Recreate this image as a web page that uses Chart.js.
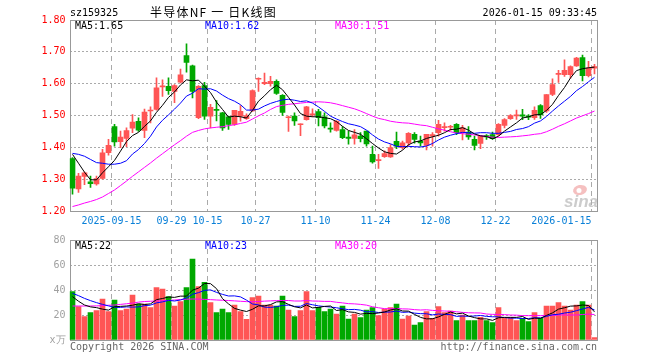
<!DOCTYPE html>
<html>
<head>
<meta charset="utf-8">
<script src="https://cdn.jsdelivr.net/npm/chart.js@4.4.1/dist/chart.umd.min.js"></script>
<style>
  html, body { margin: 0; padding: 0; background: #fff; }
  #wrap { position: relative; width: 660px; height: 360px; }
  #kline { position: absolute; left: 0; top: 0; }
  #vol { position: absolute; left: 0; top: 230px; }
</style>
</head>
<body>
<div id="wrap">
  <canvas id="kline" width="660" height="230" style="width:660px;height:230px"></canvas>
  <canvas id="vol" width="660" height="130" style="width:660px;height:130px"></canvas>
</div>
<script>
//Trading days shown on the chart
const dates = [
  '2025-09-04','2025-09-05','2025-09-08','2025-09-09','2025-09-10','2025-09-11','2025-09-12','2025-09-15','2025-09-16','2025-09-17',
  '2025-09-18','2025-09-19','2025-09-22','2025-09-23','2025-09-24','2025-09-25','2025-09-26','2025-09-29','2025-09-30','2025-10-09',
  '2025-10-10','2025-10-13','2025-10-14','2025-10-15','2025-10-16','2025-10-17','2025-10-20','2025-10-21','2025-10-22','2025-10-23',
  '2025-10-24','2025-10-27','2025-10-28','2025-10-29','2025-10-30','2025-10-31','2025-11-03','2025-11-04','2025-11-05','2025-11-06',
  '2025-11-07','2025-11-10','2025-11-11','2025-11-12','2025-11-13','2025-11-14','2025-11-17','2025-11-18','2025-11-19','2025-11-20',
  '2025-11-21','2025-11-24','2025-11-25','2025-11-26','2025-11-27','2025-11-28','2025-12-01','2025-12-02','2025-12-03','2025-12-04',
  '2025-12-05','2025-12-08','2025-12-09','2025-12-10','2025-12-11','2025-12-12','2025-12-15','2025-12-16','2025-12-17','2025-12-18',
  '2025-12-19','2025-12-22','2025-12-23','2025-12-24','2025-12-25','2025-12-26','2025-12-29','2025-12-30','2025-12-31','2026-01-05',
  '2026-01-06','2026-01-07','2026-01-08','2026-01-09','2026-01-12','2026-01-13','2026-01-14','2026-01-15'
];

const tickDates = ['2025-09-15','2025-09-29','2025-10-15','2025-10-27','2025-11-10','2025-11-24','2025-12-08','2025-12-22','2026-01-15'];
const tickTexts = ['2025-09-15','09-29','10-15','10-27','11-10','11-24','12-08','12-22','2026-01-15'];
const priceTicks = [1.2, 1.3, 1.4, 1.5, 1.6, 1.7, 1.8];
const volTicks = [0, 20, 40, 60, 80];

//Candles
const opens = [
  1.365,1.269,1.309,1.292,1.285,1.302,1.383,1.465,1.418,1.428,
  1.460,1.482,1.453,1.514,1.519,1.590,1.592,1.576,1.605,1.688,
  1.656,1.493,1.594,1.498,1.518,1.508,1.496,1.472,1.498,1.490,
  1.514,1.614,1.600,1.600,1.607,1.563,1.493,1.498,1.471,1.487,
  1.502,1.512,1.496,1.459,1.453,1.456,1.432,1.428,1.435,1.451,
  1.378,1.358,1.371,1.370,1.419,1.399,1.414,1.441,1.420,1.406,
  1.435,1.446,1.462,1.463,1.472,1.446,1.448,1.425,1.412,1.437,
  1.440,1.440,1.469,1.490,1.499,1.502,1.497,1.493,1.531,1.514,
  1.566,1.629,1.628,1.628,1.656,1.682,1.625,1.649
];
const highs = [
  1.368,1.318,1.322,1.310,1.310,1.394,1.425,1.472,1.451,1.461,
  1.503,1.493,1.520,1.527,1.618,1.612,1.618,1.597,1.646,1.725,
  1.658,1.594,1.604,1.535,1.547,1.510,1.498,1.516,1.531,1.505,
  1.581,1.618,1.633,1.623,1.612,1.566,1.498,1.508,1.474,1.529,
  1.521,1.519,1.508,1.477,1.484,1.465,1.451,1.456,1.446,1.451,
  1.404,1.378,1.389,1.409,1.448,1.420,1.446,1.446,1.435,1.441,
  1.446,1.485,1.477,1.469,1.475,1.469,1.465,1.435,1.437,1.440,
  1.448,1.475,1.490,1.503,1.517,1.519,1.503,1.527,1.534,1.566,
  1.615,1.642,1.675,1.656,1.683,1.690,1.670,1.661
];
const lows = [
  1.253,1.258,1.283,1.274,1.281,1.300,1.375,1.404,1.399,1.402,
  1.446,1.450,1.430,1.477,1.517,1.560,1.566,1.540,1.602,1.636,
  1.555,1.490,1.488,1.461,1.483,1.453,1.456,1.469,1.482,1.488,
  1.513,1.576,1.597,1.592,1.566,1.500,1.450,1.469,1.437,1.485,
  1.496,1.467,1.461,1.448,1.451,1.427,1.410,1.410,1.417,1.404,
  1.350,1.334,1.368,1.368,1.396,1.394,1.404,1.413,1.404,1.392,
  1.404,1.435,1.451,1.453,1.440,1.423,1.425,1.392,1.396,1.425,
  1.425,1.437,1.461,1.488,1.488,1.487,1.487,1.488,1.491,1.510,
  1.562,1.604,1.623,1.617,1.654,1.609,1.621,1.631
];
const closes = [
  1.272,1.310,1.320,1.286,1.302,1.383,1.406,1.417,1.432,1.453,
  1.479,1.454,1.511,1.517,1.587,1.592,1.578,1.594,1.628,1.667,
  1.576,1.592,1.498,1.526,1.516,1.461,1.472,1.516,1.513,1.500,
  1.578,1.616,1.604,1.607,1.569,1.510,1.495,1.483,1.473,1.527,
  1.504,1.493,1.467,1.457,1.482,1.430,1.428,1.439,1.427,1.411,
  1.354,1.360,1.380,1.399,1.404,1.414,1.444,1.425,1.414,1.441,
  1.440,1.472,1.464,1.465,1.446,1.461,1.433,1.406,1.435,1.433,
  1.427,1.472,1.487,1.500,1.501,1.498,1.495,1.516,1.503,1.566,
  1.597,1.632,1.642,1.654,1.680,1.625,1.649,1.654
];

//Price moving averages
const ma5 = [
  1.378,1.350,1.322,1.298,1.298,1.320,1.339,1.359,1.388,1.418,
  1.437,1.447,1.466,1.483,1.510,1.532,1.557,1.574,1.596,1.612,
  1.609,1.611,1.592,1.572,1.542,1.519,1.495,1.498,1.496,1.492,
  1.516,1.545,1.562,1.581,1.595,1.581,1.557,1.533,1.506,1.498,
  1.496,1.496,1.493,1.490,1.481,1.466,1.453,1.447,1.441,1.427,
  1.412,1.398,1.386,1.381,1.379,1.391,1.408,1.417,1.420,1.428,
  1.433,1.438,1.446,1.456,1.457,1.462,1.454,1.442,1.436,1.434,
  1.427,1.435,1.451,1.464,1.477,1.492,1.496,1.502,1.503,1.516,
  1.535,1.563,1.588,1.618,1.641,1.647,1.650,1.652
];
const ma10 = [
  1.381,1.378,1.372,1.362,1.352,1.350,1.347,1.347,1.350,1.358,
  1.379,1.393,1.412,1.435,1.464,1.485,1.502,1.520,1.539,1.561,
  1.570,1.584,1.583,1.584,1.577,1.564,1.553,1.545,1.534,1.517,
  1.517,1.520,1.530,1.538,1.544,1.549,1.551,1.548,1.544,1.546,
  1.539,1.527,1.513,1.498,1.489,1.481,1.474,1.470,1.465,1.454,
  1.439,1.426,1.417,1.411,1.403,1.402,1.403,1.402,1.401,1.404,
  1.412,1.423,1.432,1.438,1.443,1.447,1.446,1.444,1.446,1.446,
  1.444,1.444,1.447,1.450,1.456,1.459,1.465,1.476,1.483,1.497,
  1.514,1.530,1.545,1.560,1.578,1.591,1.606,1.620
];
const ma30 = [
  1.214,1.219,1.225,1.230,1.236,1.244,1.255,1.266,1.280,1.294,
  1.309,1.323,1.337,1.351,1.366,1.380,1.394,1.408,1.421,1.435,
  1.447,1.453,1.458,1.461,1.463,1.465,1.468,1.471,1.475,1.479,
  1.489,1.499,1.508,1.519,1.528,1.532,1.535,1.537,1.539,1.541,
  1.542,1.543,1.542,1.540,1.536,1.531,1.526,1.521,1.514,1.506,
  1.498,1.491,1.487,1.482,1.479,1.477,1.476,1.473,1.470,1.468,
  1.463,1.458,1.454,1.449,1.445,1.443,1.441,1.439,1.437,1.434,
  1.432,1.431,1.432,1.433,1.434,1.436,1.438,1.441,1.443,1.449,
  1.457,1.466,1.474,1.483,1.492,1.499,1.506,1.514
];

//Volume (万手) and its moving averages
const volumes = [
  38.7,26.7,18.7,21.9,23.5,32.8,22.7,32.0,23.5,24.8,
  36.0,28.8,28.8,25.9,41.9,40.8,34.7,27.2,30.7,41.9,
  64.8,42.7,46.1,29.9,21.9,24.8,21.9,28.0,22.7,16.5,
  33.9,35.2,28.0,28.0,27.2,35.2,24.0,18.7,23.5,38.7,
  23.5,26.1,22.7,24.8,20.8,27.2,16.8,20.8,17.9,24.0,
  25.9,19.5,24.8,25.9,28.8,16.8,19.2,12.0,13.9,22.7,
  17.3,26.7,21.9,23.2,15.5,20.0,15.5,15.5,18.1,15.5,
  13.9,25.9,17.3,17.9,15.5,17.3,14.7,21.9,17.3,27.2,
  27.2,29.9,27.2,24.0,28.0,30.7,28.0,1.9
];
const volMa5 = [
  34.7,31.0,28.0,26.5,25.9,24.7,23.9,26.6,26.9,27.2,
  27.8,29.0,28.4,28.9,32.3,33.2,34.4,34.1,35.1,35.1,
  39.9,41.5,45.2,45.1,41.1,33.1,28.9,25.3,23.9,22.8,
  24.6,27.3,27.3,28.3,30.5,30.7,28.5,26.6,25.7,28.0,
  25.7,26.1,26.9,27.2,23.6,24.3,22.5,22.1,20.7,21.3,
  21.1,21.6,22.4,24.0,25.0,23.2,23.1,20.5,18.1,16.9,
  17.0,18.5,20.5,22.4,20.9,21.5,19.2,17.9,16.9,16.9,
  15.7,17.8,18.1,18.1,18.1,18.8,16.5,17.5,17.3,19.7,
  21.7,24.7,25.8,27.1,27.3,28.0,27.6,22.5
];
const volMa10 = [
  37.3,35.5,33.3,31.5,29.9,28.5,27.3,26.1,26.1,26.5,
  26.3,26.5,27.5,27.9,29.7,30.5,31.7,31.2,32.0,33.7,
  36.6,37.9,39.7,40.1,38.1,36.5,35.2,35.3,34.5,31.9,
  28.8,28.1,26.3,26.1,26.6,27.7,27.9,26.9,27.0,29.2,
  28.2,27.3,26.8,26.4,25.8,25.0,24.3,24.5,23.9,22.5,
  22.7,22.0,22.3,22.4,23.2,22.1,22.4,21.5,21.1,21.0,
  20.1,20.8,20.5,20.3,18.9,19.2,18.9,19.2,19.6,18.9,
  18.6,18.5,18.0,17.5,17.5,17.2,17.2,17.8,17.7,18.9,
  20.2,20.6,21.6,22.2,23.5,24.8,26.1,24.1
];
const volMa30 = [
  27.2,27.2,27.2,27.2,27.3,27.5,27.8,28.0,28.5,29.0,
  29.5,30.3,30.8,31.0,31.2,31.4,31.6,32.0,32.4,32.6,
  32.8,32.7,32.5,32.3,32.0,31.8,31.6,31.3,31.0,30.7,
  30.6,30.8,31.1,31.3,31.5,31.6,31.6,31.2,31.2,31.6,
  31.2,31.1,30.9,30.9,30.2,29.7,29.1,28.9,28.5,27.9,
  26.6,25.8,25.1,25.0,25.2,24.9,24.8,24.3,24.0,24.2,
  23.7,23.4,23.2,23.0,22.6,22.1,21.8,21.7,21.6,20.8,
  20.5,20.5,20.3,20.0,19.9,19.5,19.5,19.5,19.5,19.6,
  19.6,20.0,20.1,20.0,20.0,20.4,20.7,20.4
];

const priceLegend = ['MA5:1.65', 'MA10:1.62', 'MA30:1.51'];
const volLegend = ['MA5:22', 'MA10:23', 'MA30:20'];

//Styles
const RED = '#ff5555';
const GREEN = '#00a800';
const MA_COLORS = ['#000000', '#0000ff', '#ff00ff'];
const MONO = '"DejaVu Sans Mono", monospace';
const GRID = '#aaaaaa';
const BOX = '#999999';

const candleColors = closes.map((c, i) => c >= opens[i] ? RED : GREEN);
const tickIndex = tickDates.map(d => dates.indexOf(d));

function maLine(data, color) {
  return {
    type: 'line',
    data: data,
    borderColor: color,
    borderWidth: 1,
    pointRadius: 0,
    tension: 0,
    fill: false,
    order: 0
  };
}

//shared x axis: dashed lines only on the labelled dates
function xAxis(height) {
  return {
    offset: true,
    grid: {
      offset: true,
      drawTicks: false,
      lineWidth: 1,
      color: ctx => tickIndex.includes(ctx.index) ? GRID : 'rgba(0,0,0,0)'
    },
    border: { display: false, dash: [5, 4] },
    ticks: { display: false, autoSkip: false },
    afterFit: s => { s.height = height; }
  };
}

//Grey frame round the plot area
const framePlugin = {
  id: 'frame',
  beforeDatasetsDraw(chart) {
    const a = chart.chartArea;
    const ctx = chart.ctx;
    ctx.save();
    ctx.strokeStyle = BOX;
    ctx.lineWidth = 1;
    ctx.strokeRect(70.5, Math.round(a.top) + 0.5, 527, Math.round(a.bottom - a.top));
    ctx.restore();
  }
};

function drawLegend(ctx, texts, y) {
  ctx.font = '10px ' + MONO;
  ctx.textBaseline = 'middle';
  ctx.textAlign = 'left';
  [75, 205, 335].forEach((x, k) => {
    ctx.fillStyle = MA_COLORS[k];
    ctx.fillText(texts[k], x, y);
  });
}

//Header, legend, date labels and the logo of the price chart
const klineText = {
  id: 'klineText',
  afterDraw(chart) {
    const ctx = chart.ctx;
    ctx.save();
    ctx.fillStyle = '#000';
    ctx.font = '10px ' + MONO;
    ctx.textBaseline = 'middle';
    ctx.textAlign = 'left';
    ctx.fillText('sz159325', 70, 13);
    ctx.textAlign = 'right';
    ctx.fillText('2026-01-15 09:33:45', 597, 13);

    // title stretched to the width it has in the picture
    const title = '半导体NF 一 日K线图';
    ctx.font = '12px "Noto Sans CJK SC", sans-serif';
    ctx.textAlign = 'left';
    const w = ctx.measureText(title).width;
    ctx.letterSpacing = ((127 - w) / title.length).toFixed(2) + 'px';
    ctx.fillText(title, 150, 12);
    ctx.letterSpacing = '0px';

    drawLegend(ctx, priceLegend, 26);

    const xs = chart.scales.x;
    const half = (xs.right - xs.left) / dates.length / 2;
    ctx.font = '10px ' + MONO;
    ctx.fillStyle = '#0a80d8';
    tickIndex.forEach((idx, k) => {
      ctx.textAlign = k === tickIndex.length - 1 ? 'right' : 'center';
      ctx.fillText(tickTexts[k], xs.getPixelForValue(idx) - half, 221);
    });

    // sina watermark
    ctx.fillStyle = 'rgba(236,140,140,0.55)';
    ctx.beginPath();
    ctx.ellipse(580, 190, 7, 5, -0.2, 0, Math.PI * 2);
    ctx.fill();
    ctx.fillStyle = '#fff';
    ctx.beginPath();
    ctx.arc(579, 190.5, 2.5, 0, Math.PI * 2);
    ctx.fill();
    ctx.font = 'italic bold 17px "Liberation Sans", sans-serif';
    ctx.fillStyle = 'rgba(170,170,170,0.6)';
    ctx.textAlign = 'left';
    ctx.textBaseline = 'alphabetic';
    ctx.fillText('sina', 564, 207);
    ctx.restore();
  }
};

const volText = {
  id: 'volText',
  afterDraw(chart) {
    const ctx = chart.ctx;
    ctx.save();
    drawLegend(ctx, volLegend, 16.5);
    ctx.font = '10px ' + MONO;
    ctx.fillStyle = '#666';
    ctx.textAlign = 'left';
    ctx.fillText('Copyright 2026 SINA.COM', 70, 117);
    ctx.textAlign = 'right';
    ctx.fillText('http://finance.sina.com.cn', 597, 117);
    ctx.restore();
  }
};

//Candlestick chart: wicks and bodies as floating bars
const klineChart = new Chart(document.getElementById('kline'), {
  type: 'bar',
  data: {
    labels: dates,
    datasets: [
      maLine(ma5, MA_COLORS[0]),
      maLine(ma10, MA_COLORS[1]),
      maLine(ma30, MA_COLORS[2]),
      {
        data: dates.map((d, i) => [lows[i], highs[i]]),
        backgroundColor: candleColors,
        barThickness: 1,
        grouped: false,
        order: 1
      },
      {
        data: dates.map((d, i) => [opens[i], closes[i]]),
        backgroundColor: candleColors,
        barThickness: 5,
        minBarLength: 1,
        grouped: false,
        order: 1
      }
    ]
  },
  options: {
    responsive: false,
    animation: false,
    devicePixelRatio: 1,
    layout: { padding: { left: 0, right: 62.5, top: 20, bottom: 0 } },
    plugins: { legend: { display: false }, tooltip: { enabled: false } },
    scales: {
      x: xAxis(19),
      y: {
        min: priceTicks[0],
        max: priceTicks[priceTicks.length - 1],
        afterBuildTicks: s => { s.ticks = priceTicks.map(v => ({ value: v })); },
        ticks: {
          color: '#ff0000',
          padding: 4,
          font: { family: MONO, size: 10 },
          callback: v => v.toFixed(2)
        },
        grid: { color: GRID, drawTicks: false },
        border: { display: false, dash: [2, 2] },
        afterFit: s => { s.width = 69.5; }
      }
    }
  },
  plugins: [framePlugin, klineText]
});

//Volume chart
const volChart = new Chart(document.getElementById('vol'), {
  type: 'bar',
  data: {
    labels: dates,
    datasets: [
      maLine(volMa5, MA_COLORS[0]),
      maLine(volMa10, MA_COLORS[1]),
      maLine(volMa30, MA_COLORS[2]),
      {
        data: volumes,
        backgroundColor: candleColors,
        barThickness: 5,
        order: 1
      }
    ]
  },
  options: {
    responsive: false,
    animation: false,
    devicePixelRatio: 1,
    layout: { padding: { left: 0, right: 62.5, top: 10, bottom: 0 } },
    plugins: { legend: { display: false }, tooltip: { enabled: false } },
    scales: {
      x: xAxis(20),
      y: {
        min: volTicks[0],
        max: volTicks[volTicks.length - 1],
        afterBuildTicks: s => { s.ticks = volTicks.map(v => ({ value: v })); },
        ticks: {
          color: '#a0a0a0',
          padding: 4,
          font: { family: MONO, size: 10 },
          callback: v => v === 0 ? 'x万' : String(v)
        },
        grid: { color: GRID, drawTicks: false },
        border: { display: false, dash: [2, 2] },
        afterFit: s => { s.width = 69.5; }
      }
    }
  },
  plugins: [framePlugin, volText]
});
</script>
</body>
</html>
